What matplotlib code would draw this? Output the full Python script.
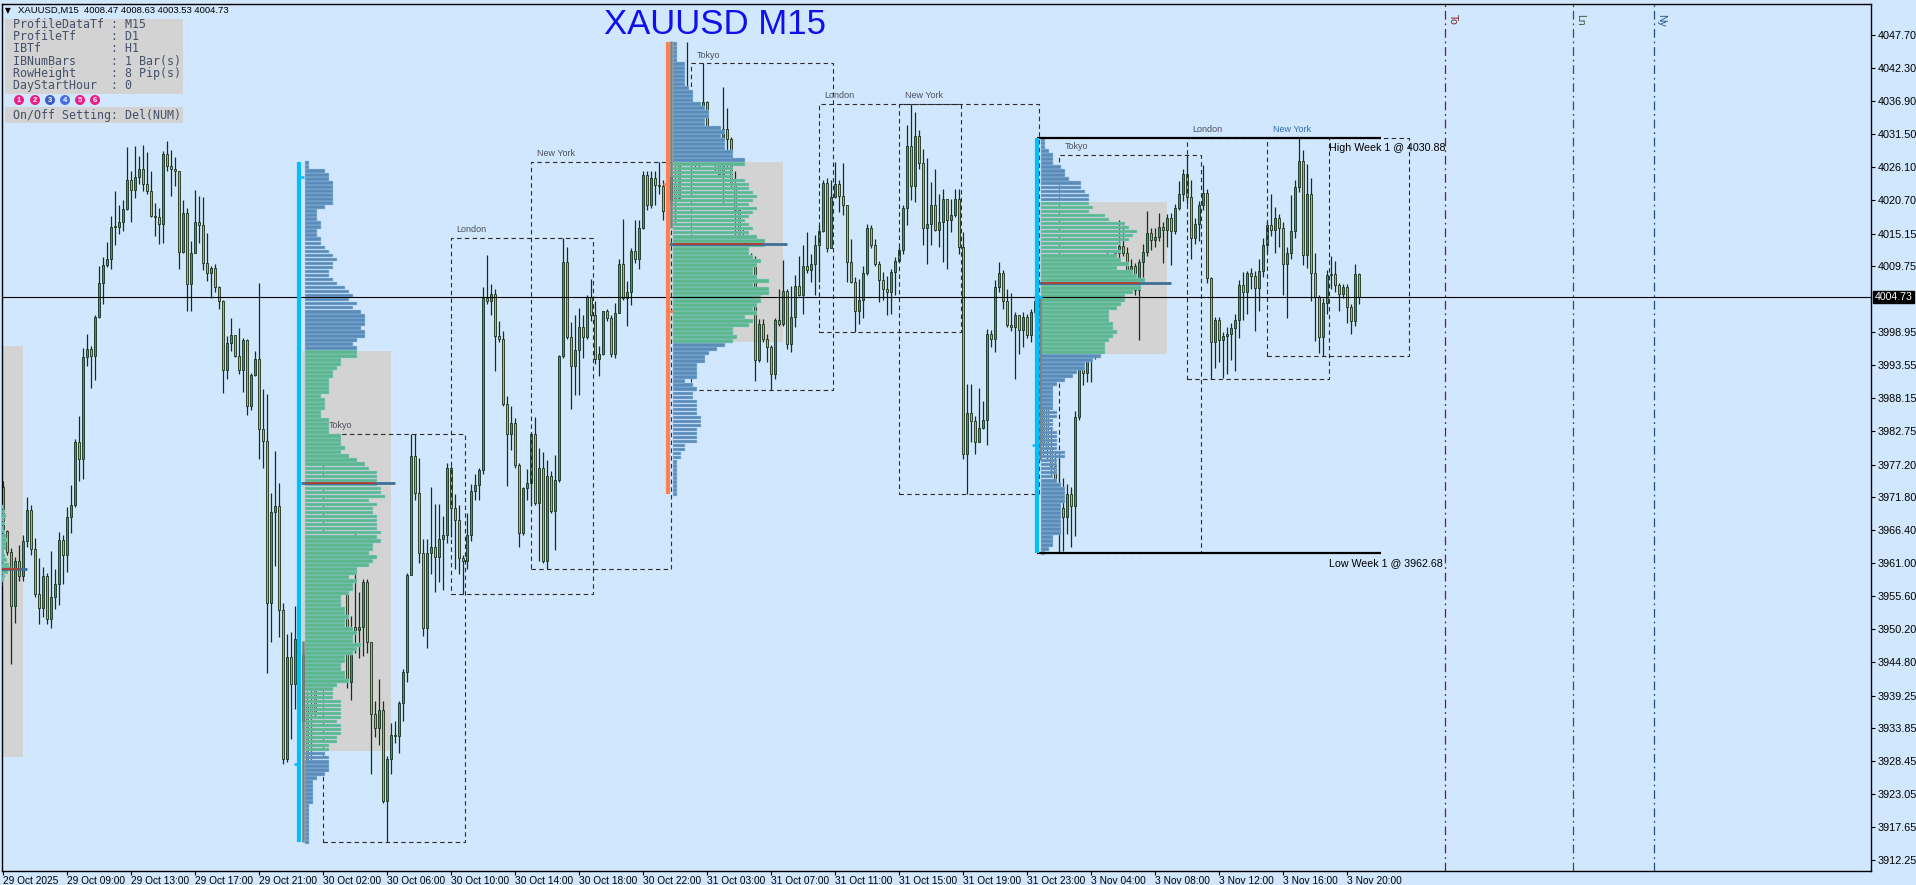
"""
XAUUSD M15 with daily market profiles, sessions and weekly range.
"""

import numpy as np
import matplotlib
matplotlib.use("Agg")
import matplotlib.pyplot as plt
from matplotlib.patches import Rectangle, Ellipse

plt.rcParams["font.family"] = ["Liberation Sans", "DejaVu Sans"]

# ------------------------------------------------------------
# Candles (M15), bar 0 = 29 Oct 05:00
# ------------------------------------------------------------

first_open = 3973.5

closes = [
    3966.3, 3962.8, 3953.9, 3961.3, 3958.9, 3964.6, 3969.8, 3963.4, 3955.9, 3953.7,
    3958.9, 3951.8, 3955.5, 3957.6, 3964.8, 3962.3, 3968.6, 3970.5, 3980.9, 3978.1,
    3994.8, 3996.2, 3995.0, 4001.4, 4007.0, 4010.0, 4010.9, 4016.3, 4016.2, 4017.0,
    4019.2, 4023.9, 4022.3, 4024.5, 4025.8, 4023.3, 4022.1, 4018.1, 4017.9, 4016.7,
    4028.2, 4026.2, 4025.7, 4025.4, 4012.2, 4018.6, 4006.8, 4012.0, 4017.0, 4016.5,
    4010.3, 4008.6, 4009.5, 4006.4, 4004.1, 3992.8, 3997.2, 3998.5, 3995.0, 3992.7,
    3997.7, 3986.8, 3991.9, 3994.6, 3983.1, 3981.0, 3954.5, 3969.4, 3970.4, 3953.3,
    3928.9, 3945.6, 3941.1, 3948.5, 3946.0, 3935.0, 3937.5, 3936.5, 3942.3, 3947.5,
    3941.5, 3949.0, 3945.0, 3952.0, 3961.0, 3959.6, 3941.5, 3950.6, 3950.0, 3950.5,
    3957.9, 3948.0, 3936.3, 3934.0, 3936.9, 3922.0, 3928.9, 3932.8, 3932.6, 3938.0,
    3943.2, 3959.1, 3978.6, 3972.5, 3962.7, 3950.4, 3962.7, 3963.7, 3962.0, 3965.0,
    3965.7, 3976.6, 3970.1, 3968.1, 3961.8, 3961.4, 3965.6, 3972.8, 3973.8, 3976.3,
    4004.5, 4004.1, 4005.3, 3998.4, 3997.8, 3987.1, 3982.2, 3984.1, 3977.2, 3965.9,
    3973.3, 3974.1, 3982.2, 3970.9, 3976.7, 3961.4, 3975.4, 3969.6, 3974.6, 3995.0,
    4010.5, 3998.2, 3993.4, 3996.0, 3999.8, 3998.2, 4004.7, 4001.7, 3994.6, 3995.4,
    4002.4, 4001.2, 3995.3, 4002.1, 4010.2, 4004.5, 4005.6, 4012.3, 4010.9, 4016.0,
    4024.8, 4019.9, 4024.2, 4023.1, 4022.9, 4018.8, 4020.6, 4024.5, 4021.0, 4027.5,
    4038.0, 4037.0, 4027.2, 4026.6, 4032.1, 4036.8, 4032.1, 4027.5, 4028.0, 4025.0,
    4032.4, 4030.7, 4023.3, 4019.0, 4010.0, 4014.5, 4004.0, 4011.0, 3994.3, 4000.3,
    3997.9, 3996.5, 3992.1, 4001.0, 4000.3, 4005.7, 3997.0, 4001.4, 4006.6, 4005.1,
    4009.8, 4009.1, 4010.2, 4013.3, 4015.6, 4023.5, 4012.7, 4021.2, 4023.3, 4021.4,
    4019.9, 4010.5, 4007.2, 4002.5, 4004.3, 4008.6, 4016.1, 4013.2, 4010.2, 4007.5,
    4006.0, 4005.5, 4008.8, 4010.6, 4012.5, 4019.4, 4029.5, 4022.9, 4031.2, 4026.8,
    4016.1, 4016.8, 4019.9, 4015.7, 4017.1, 4020.8, 4017.4, 4018.2, 4020.9, 4012.9,
    3979.0, 3985.7, 3984.3, 3980.9, 3983.2, 3984.6, 3998.6, 3997.8, 4006.4, 4008.7,
    4004.0, 4000.1, 3999.8, 4001.7, 3999.3, 4001.5, 3998.5, 4002.3, 4004.1, 4002.4,
    3996.0, 3979.7, 3977.0, 3973.5, 3970.0, 3968.6, 3972.3, 3970.4, 3985.0, 3999.0,
    3992.2, 3995.8, 3995.3, 4007.0, 3999.0, 4005.0, 4011.0, 4009.0, 4012.0, 4013.1,
    4012.0, 4007.3, 4009.8, 4005.9, 4010.5, 4012.2, 4015.2, 4014.1, 4014.6, 4016.3,
    4015.7, 4017.7, 4015.6, 4019.3, 4021.7, 4024.9, 4021.1, 4014.5, 4016.7, 4019.8,
    4021.8, 4007.8, 3997.4, 4000.9, 3997.6, 3998.4, 3998.7, 3999.7, 4001.0, 4006.7,
    4005.6, 4008.7, 4008.2, 4006.2, 4009.0, 4013.3, 4016.5, 4015.7, 4017.7, 4016.0,
    4010.1, 4012.0, 4015.5, 4022.8, 4027.1, 4011.7, 4021.6, 4008.6, 4004.8, 3998.2,
    4003.8, 4008.4, 4008.5, 4006.7, 4005.3, 4006.3, 4003.1, 4000.8, 4008.47, 4004.73,
]

highs = [
    3974.5, 3966.5, 3963.5, 3962.1, 3964.0, 3965.7, 3971.9, 3970.6, 3965.1, 3961.8,
    3960.3, 3959.4, 3963.0, 3960.1, 3966.2, 3965.7, 3970.2, 3973.8, 3981.4, 3985.1,
    3996.4, 3998.6, 3996.6, 4001.7, 4009.9, 4011.3, 4013.8, 4018.0, 4022.1, 4019.8,
    4020.6, 4029.3, 4025.4, 4029.5, 4027.9, 4029.7, 4028.5, 4025.4, 4020.2, 4019.4,
    4028.7, 4030.3, 4028.9, 4027.7, 4025.4, 4020.6, 4019.4, 4014.0, 4022.3, 4021.4,
    4021.1, 4015.2, 4009.9, 4010.1, 4006.6, 4004.3, 3998.3, 4001.2, 3998.5, 3999.7,
    3998.0, 3997.9, 3992.2, 3995.9, 4007.0, 3989.6, 3988.8, 3972.5, 3979.5, 3974.2,
    3954.5, 3949.3, 3949.7, 3953.9, 3950.0, 3947.0, 3940.0, 3945.0, 3943.5, 3948.1,
    3950.0, 3950.5, 3950.5, 3954.0, 3962.5, 3964.0, 3961.0, 3952.3, 3966.2, 3956.2,
    3958.4, 3958.4, 3948.0, 3938.4, 3941.9, 3938.4, 3929.3, 3934.8, 3935.0, 3938.4,
    3943.6, 3959.4, 3982.2, 3982.2, 3978.3, 3964.9, 3964.9, 3973.5, 3970.7, 3970.7,
    3968.8, 3977.4, 3977.0, 3972.4, 3970.5, 3962.3, 3969.2, 3974.0, 3975.7, 3976.6,
    4006.4, 4011.6, 4006.9, 4006.0, 4000.8, 3999.1, 3988.4, 3986.9, 3984.8, 3977.4,
    3973.6, 3976.5, 3982.5, 3985.0, 3980.0, 3979.2, 3977.9, 3976.1, 3978.7, 3995.2,
    4014.4, 4012.9, 4000.6, 4001.7, 4003.0, 4001.7, 4005.1, 4007.7, 4004.0, 3996.6,
    4002.5, 4002.7, 4001.7, 4003.8, 4010.9, 4017.5, 4007.3, 4012.7, 4017.3, 4017.3,
    4025.5, 4025.5, 4025.5, 4025.5, 4026.9, 4023.9, 4022.0, 4025.0, 4027.7, 4027.7,
    4043.1, 4046.6, 4038.4, 4031.8, 4032.7, 4043.1, 4037.0, 4032.5, 4032.7, 4028.5,
    4039.2, 4035.8, 4031.0, 4025.5, 4019.5, 4016.0, 4015.0, 4012.0, 4011.5, 4001.1,
    4001.1, 3998.7, 3996.8, 4001.3, 4006.1, 4010.8, 4006.1, 4006.6, 4008.3, 4011.5,
    4013.3, 4015.4, 4011.8, 4014.9, 4016.6, 4023.9, 4024.2, 4023.9, 4026.9, 4024.0,
    4026.7, 4019.9, 4014.3, 4008.0, 4007.7, 4009.9, 4016.8, 4016.5, 4014.2, 4010.6,
    4008.8, 4008.2, 4009.4, 4011.3, 4012.9, 4019.8, 4033.0, 4036.5, 4035.1, 4032.1,
    4029.0, 4027.6, 4023.7, 4025.7, 4021.7, 4022.5, 4020.9, 4020.8, 4022.5, 4022.5,
    4015.4, 3990.5, 3990.5, 3985.1, 3989.8, 3987.6, 3999.4, 3999.3, 4007.5, 4010.4,
    4009.1, 4006.1, 4005.4, 4002.3, 4001.7, 4002.3, 4002.0, 4002.8, 4005.0, 4004.5,
    3997.5, 3997.5, 3983.0, 3979.5, 3979.3, 3975.0, 3974.0, 3973.6, 3986.0, 4000.5,
    4002.0, 3999.0, 3998.8, 4008.0, 4008.0, 4008.0, 4012.2, 4011.5, 4012.5, 4017.3,
    4016.5, 4013.0, 4011.0, 4010.3, 4011.0, 4013.5, 4018.8, 4016.0, 4016.0, 4018.6,
    4017.0, 4018.3, 4018.5, 4020.0, 4023.8, 4025.8, 4028.1, 4024.0, 4017.7, 4020.5,
    4026.4, 4022.5, 4008.0, 4001.5, 4001.5, 3999.0, 3999.8, 4000.5, 4002.0, 4007.5,
    4008.9, 4009.0, 4009.5, 4009.0, 4011.0, 4014.5, 4017.2, 4021.6, 4019.5, 4018.3,
    4017.0, 4013.0, 4021.5, 4024.0, 4030.88, 4028.9, 4026.6, 4024.2, 4012.0, 4005.0,
    4004.5, 4009.2, 4011.5, 4010.7, 4007.0, 4006.8, 4006.8, 4003.5, 4010.2, 4008.63,
]

lows = [
    3964.8, 3962.4, 3944.4, 3951.2, 3958.0, 3958.0, 3963.6, 3962.4, 3955.5, 3951.0,
    3952.1, 3951.0, 3950.4, 3953.5, 3954.1, 3957.6, 3959.6, 3965.9, 3970.2, 3974.5,
    3974.9, 3993.4, 3989.7, 3991.1, 4001.2, 4003.5, 4009.7, 4009.3, 4013.2, 4015.0,
    4015.5, 4019.0, 4017.1, 4021.0, 4023.3, 4022.1, 4021.7, 4017.9, 4014.8, 4013.4,
    4013.6, 4025.4, 4021.4, 4022.9, 4009.3, 4012.0, 4002.5, 4002.4, 4011.9, 4013.6,
    4009.1, 4007.4, 4004.5, 4005.5, 4002.8, 3989.0, 3991.3, 3995.8, 3994.8, 3992.1,
    3989.2, 3985.3, 3986.1, 3991.7, 3978.2, 3976.6, 3942.9, 3948.1, 3960.5, 3948.9,
    3928.0, 3928.3, 3932.2, 3937.0, 3940.0, 3929.5, 3927.0, 3925.3, 3935.5, 3941.5,
    3940.0, 3941.0, 3944.5, 3944.0, 3952.0, 3956.0, 3940.5, 3938.5, 3946.2, 3945.4,
    3945.8, 3946.3, 3926.3, 3932.4, 3931.1, 3921.6, 3915.2, 3926.3, 3931.5, 3929.8,
    3935.0, 3941.5, 3959.1, 3971.4, 3961.0, 3949.0, 3947.1, 3959.2, 3956.2, 3957.9,
    3956.6, 3964.4, 3965.3, 3960.1, 3959.2, 3955.9, 3960.1, 3964.6, 3971.4, 3971.4,
    3975.7, 4003.5, 4001.7, 3992.6, 3997.3, 3986.9, 3973.7, 3979.6, 3976.7, 3963.7,
    3965.7, 3971.4, 3970.5, 3970.5, 3961.4, 3961.0, 3960.1, 3969.2, 3963.1, 3974.4,
    3994.7, 3997.8, 3986.3, 3988.7, 3988.7, 3994.7, 3997.8, 4000.8, 3993.7, 3991.7,
    3995.2, 4000.8, 3994.9, 3994.7, 4002.1, 4004.3, 3999.9, 4003.4, 4010.3, 4009.3,
    4015.9, 4019.0, 4019.4, 4019.9, 4021.6, 4017.4, 4017.5, 4019.8, 4016.5, 4020.6,
    4026.6, 4034.0, 4022.0, 4026.0, 4026.0, 4031.8, 4031.6, 4026.6, 4025.5, 4024.5,
    4019.8, 4026.0, 4022.5, 4013.0, 4009.0, 4009.4, 4002.5, 4003.0, 3991.0, 3994.0,
    3997.3, 3994.0, 3989.4, 3991.3, 4000.0, 4000.0, 3996.2, 3995.7, 3999.8, 4004.9,
    4002.0, 4008.7, 4007.2, 4005.1, 4007.2, 4015.4, 4012.1, 4012.7, 4021.0, 4018.7,
    4018.2, 4007.2, 4007.0, 3999.0, 4000.3, 4001.2, 4008.4, 4012.7, 4009.9, 4003.9,
    4004.2, 4001.7, 4002.0, 4005.1, 4010.5, 4011.8, 4016.5, 4020.6, 4020.3, 4025.8,
    4013.2, 4010.2, 4013.3, 4015.5, 4012.9, 4010.5, 4009.4, 4015.4, 4017.8, 4011.8,
    3978.2, 3972.4, 3980.9, 3979.0, 3980.9, 3983.0, 3980.4, 3996.5, 3995.7, 4005.6,
    4002.8, 3999.8, 3999.2, 3991.3, 3995.4, 3996.5, 3998.0, 3997.4, 4001.5, 4001.8,
    3978.5, 3978.0, 3975.5, 3971.0, 3962.68, 3963.0, 3965.8, 3963.6, 3965.5, 3984.5,
    3990.2, 3990.8, 3990.8, 3994.5, 3997.5, 3998.5, 4003.0, 4007.0, 4007.5, 4010.0,
    4011.5, 4006.5, 4006.5, 4005.0, 3997.6, 4008.0, 4011.5, 4012.5, 4013.0, 4014.0,
    4010.3, 4013.0, 4010.0, 4015.0, 4019.0, 4020.5, 4020.0, 4011.0, 4013.5, 4014.0,
    4019.0, 4007.0, 3991.2, 3993.0, 3994.0, 3991.5, 3992.0, 3994.3, 3992.5, 3998.0,
    4001.0, 4002.0, 4006.0, 3999.2, 4002.5, 4008.0, 4012.0, 4014.8, 4012.0, 4013.0,
    4005.0, 4001.2, 4011.0, 4014.5, 4022.0, 4010.0, 4009.5, 4004.0, 3997.5, 3995.5,
    3995.0, 4002.0, 4006.0, 4005.5, 4002.5, 4004.5, 4000.5, 3998.6, 4000.0, 4003.53,
]

# opens that differ from the previous close (gaps at the day change)
gap_opens = {76: 3928.0, 168: 4023.3, 260: 3980.5}

# ------------------------------------------------------------
# Days, profiles, sessions
# ------------------------------------------------------------

day_first = [76, 168, 260]
day_last = [167, 259, 339]
day_line_x = [74.0, 166.3, 258.5]
day_line_col = ["#00bfff", "#ff7f50", "#00bfff"]
ib_x = [75.0, 167.1, 259.3]
ib_low = [3915.2, 4016.0, 3977.9]
ib_high = [3948.3, 4046.7, 4004.5]
va_low = [3930.2, 3997.3, 3995.3]
va_high = [3995.9, 4026.9, 4020.3]
va_right = [97.0, 195.0, 291.0]
poc = [3974.2, 4013.4, 4007.0]
row_h = 0.66

session_names = ["Tokyo", "London", "New York"]
session_start_h = [2, 10, 15]
session_end_h = [11, 19, 24]

# tail of the 29 Oct profile at the left edge
prev_rows = [3970.2, 3969.5, 3968.8, 3968.2, 3967.5, 3966.8, 3966.2, 3965.5, 3964.8, 3964.2,
             3963.5, 3962.8, 3962.2, 3961.5, 3960.8, 3960.2, 3959.5, 3958.8, 3958.2, 3957.5]
prev_len = [0.8, 1.2, 1.5, 1.0, 1.3, 0.8, 1.2, 1.5, 1.8, 1.4,
            1.6, 1.0, 1.3, 1.8, 2.2, 2.5, 1.9, 1.3, 1.0, 0.6]
prev_va = (3929.1, 3996.7)
prev_poc = 3960.1

week_high = 4030.88
week_low = 3962.68
last_price = 4004.73

future_x = [360.5, 392.5, 412.75]
future_lab = ["To", "Ln", "Ny"]
future_col = ["#7a1f1f", "#2e5e2e", "#1f4f86"]

xtick_labels = ["29 Oct 2025", "29 Oct 09:00", "29 Oct 13:00", "29 Oct 17:00", "29 Oct 21:00",
                "30 Oct 02:00", "30 Oct 06:00", "30 Oct 10:00", "30 Oct 14:00", "30 Oct 18:00",
                "30 Oct 22:00", "31 Oct 03:00", "31 Oct 07:00", "31 Oct 11:00", "31 Oct 15:00",
                "31 Oct 19:00", "31 Oct 23:00", "3 Nov 04:00", "3 Nov 08:00", "3 Nov 12:00",
                "3 Nov 16:00", "3 Nov 20:00"]
yticks = [4047.70, 4042.30, 4036.90, 4031.50, 4026.10, 4020.70, 4015.15, 4009.75,
          3998.95, 3993.55, 3988.15, 3982.75, 3977.20, 3971.80, 3966.40, 3961.00,
          3955.60, 3950.20, 3944.80, 3939.25, 3933.85, 3928.45, 3923.05, 3917.65, 3912.25]

info_lines = ["ProfileDataTf : M15", "ProfileTf     : D1", "IBTf          : H1",
              "IBNumBars     : 1 Bar(s)", "RowHeight     : 8 Pip(s)", "DayStartHour  : 0"]

# ------------------------------------------------------------
# Colours
# ------------------------------------------------------------

BG = "#d1e7fd"
BULL = "#3a8dbb"
BEAR = "#f29560"
EDGE = "#15301a"
BLUE_ROW = "#5b8cb9"
GREEN_ROW = "#5cb88c"
ROW_EDGE = "#9ecaec"

W, H = 1916, 885
fig = plt.figure(figsize=(W / 100, H / 100), dpi=100, facecolor=BG)
ax = fig.add_axes([2 / W, 14 / H, 1869 / W, 867 / H])
ax.set_facecolor(BG)
ax.set_xlim(-0.25, 467)
ax.set_ylim(3910.44, 4052.86)

o = np.array([first_open] + closes[:-1])
for k, v in gap_opens.items():
    o[k] = v
c = np.array(closes)
h = np.maximum(np.array(highs), np.maximum(o, c))
l = np.minimum(np.array(lows), np.minimum(o, c))
x = np.arange(len(c))

# candles
ax.vlines(x, l, h, color=EDGE, lw=0.9, zorder=2)
up = c >= o
ax.bar(x, np.maximum(np.abs(c - o), 0.15), bottom=np.minimum(o, c), width=0.72,
       color=np.where(up, BULL, BEAR), edgecolor=EDGE, linewidth=0.6, zorder=2.1)

# previous day tail profile
ax.add_patch(Rectangle((-0.75, prev_va[0]), 5.65, prev_va[1] - prev_va[0],
                       fc="#d3d3d3", ec="none", zorder=1))
ax.barh(prev_rows, prev_len, left=-0.75, height=row_h * 0.92, color=GREEN_ROW,
        edgecolor=ROW_EDGE, linewidth=0.3, zorder=3)
ax.hlines(prev_poc, -0.75, 6.0, color="#3f6e96", lw=2, zorder=4)
ax.hlines(prev_poc, -0.75, 4.25, color="#c0392b", lw=1.2, zorder=4.1)

# day profiles
for d in range(3):
    s, e = day_first[d], day_last[d]
    hh, ll = h[s:e + 1], l[s:e + 1]
    levels = np.arange(ll.min(), hh.max() + 1e-9, row_h)
    counts = np.array([((ll <= p) & (hh >= p)).sum() for p in levels])
    in_va = (levels >= va_low[d]) & (levels <= va_high[d])
    left = s - 0.5
    right = va_right[d]

    ax.add_patch(Rectangle((ib_x[d] - 0.3, va_low[d]), right - ib_x[d] + 0.3,
                           va_high[d] - va_low[d], fc="#d3d3d3", ec="none", zorder=1))
    ax.barh(levels, counts, left=left, height=row_h * 0.92,
            color=np.where(in_va, GREEN_ROW, BLUE_ROW),
            edgecolor=ROW_EDGE, linewidth=0.3, zorder=3)

    pc = counts[np.argmin(np.abs(levels - poc[d]))]
    ax.hlines(poc[d], ib_x[d] - 0.5, right + 1.0, color="#3f6e96", lw=2, zorder=4)
    ax.hlines(poc[d], left, left + pc - 0.5, color="#c0392b", lw=1.2, zorder=4.1)

    ax.vlines(ib_x[d], ib_low[d], ib_high[d], color="#7f7f7f", lw=1.8, zorder=3.5)

    lx = day_line_x[d]
    ax.vlines(lx, ll.min(), hh.max(), color=day_line_col[d], lw=3, zorder=6)
    ax.hlines(o[s], lx - 1.3, lx, color=day_line_col[d], lw=1.8, zorder=6)
    ax.hlines(c[e], lx, lx + 1.3, color=day_line_col[d], lw=1.8, zorder=6)

    # sessions
    for k in range(3):
        x0 = s + 4 * (session_start_h[k] - 1)
        x1 = min(s + 4 * (session_end_h[k] - 1) - 0.4, e if d < 2 else 999)
        b1 = min(int(x1), e)
        top = h[x0:b1 + 1].max()
        bot = l[x0:b1 + 1].min()
        ax.add_patch(Rectangle((x0, bot), x1 - x0, top - bot, fill=False,
                               ec="#2b2b2b", lw=0.8, ls=(0, (4, 3)), zorder=2.5))
        lab_col = "#2e6cb5" if (d == 2 and k == 2) else "#4a4f5a"
        ax.text(x0 + 1.4, top + 0.6, session_names[k], fontsize=6.5, color=lab_col,
                ha="left", va="bottom", zorder=2.6)

# weekly range
ax.hlines([week_high, week_low], 258.5, 344.5, color="black", lw=1.6, zorder=5)
ax.text(331.5, week_high - 0.8, f"High Week 1 @ {week_high:.2f}", fontsize=7.7,
        ha="left", va="top", zorder=5)
ax.text(331.5, week_low - 0.8, f"Low Week 1 @ {week_low:.2f}", fontsize=7.7,
        ha="left", va="top", zorder=5)

# next sessions
for fx, lab, col in zip(future_x, future_lab, future_col):
    ax.axvline(fx, color=col, lw=0.9, ls=(0, (7, 3, 1.5, 3)), zorder=2)
    ax.text(fx + 0.6, 0.988, lab, rotation=-90, fontsize=7.5, color=col,
            ha="left", va="top", transform=ax.get_xaxis_transform())

# last price
ax.axhline(last_price, color="black", lw=0.8, zorder=5.5)
ax.text(1.002, last_price, f"{last_price:.2f}", transform=ax.get_yaxis_transform(),
        fontsize=7.6, color="white", va="center", ha="left",
        bbox=dict(facecolor="black", edgecolor="black", pad=1.0))

# axes
ax.set_yticks(yticks)
ax.set_yticklabels([f"{v:.2f}" for v in yticks])
ax.yaxis.tick_right()
ax.tick_params(axis="y", length=3, width=0.8, labelsize=7.8, pad=2)
ax.set_xticks(np.arange(0, 337, 16))
ax.set_xticklabels(xtick_labels)
ax.tick_params(axis="x", length=3, width=0.8, labelsize=7.3, pad=0.5)
for t in ax.get_xticklabels():
    t.set_horizontalalignment("left")
for sp in ax.spines.values():
    sp.set_color("black")
    sp.set_linewidth(1)

# title and header
fig.text(715 / W, 1 - 24 / H, "XAUUSD M15", fontsize=25, color="#1010ee",
         ha="center", va="center")
fig.text(5 / W, 1 - 10.5 / H, "\u25bc", fontsize=5.5, va="center", family="DejaVu Sans")
fig.text(18 / W, 1 - 10.5 / H, "XAUUSD,M15  4008.47 4008.63 4003.53 4004.73",
         fontsize=6.8, va="center")

# info panel
fig.add_artist(Rectangle((5 / W, 1 - 94 / H), 178 / W, 75 / H, transform=fig.transFigure,
                         fc="#d3d3d3", ec="none"))
fig.add_artist(Rectangle((5 / W, 1 - 123 / H), 178 / W, 16 / H, transform=fig.transFigure,
                         fc="#d3d3d3", ec="none"))
for i, line in enumerate(info_lines):
    fig.text(13 / W, 1 - (25 + 12 * i) / H, line, fontsize=8.4, color="#44506a",
             family="DejaVu Sans Mono", va="center")
fig.text(13 / W, 1 - 115 / H, "On/Off Setting: Del(NUM)", fontsize=8.4, color="#44506a",
         family="DejaVu Sans Mono", va="center")
circle_x = [19, 35, 50, 65, 80, 95]
circle_col = ["#ee1c84", "#ee1c84", "#3a5bc7", "#4a6ee0", "#ee1c84", "#ee1c84"]
for i, (cx, cc) in enumerate(zip(circle_x, circle_col)):
    fig.add_artist(Ellipse((cx / W, 1 - 100 / H), 10 / W, 10 / H,
                           transform=fig.transFigure, fc=cc, ec="none"))
    fig.text(cx / W, 1 - 100 / H, str(i + 1), fontsize=5.5, color="white",
             fontweight="bold", ha="center", va="center")

fig.savefig("out.png", dpi=100, facecolor=BG)
